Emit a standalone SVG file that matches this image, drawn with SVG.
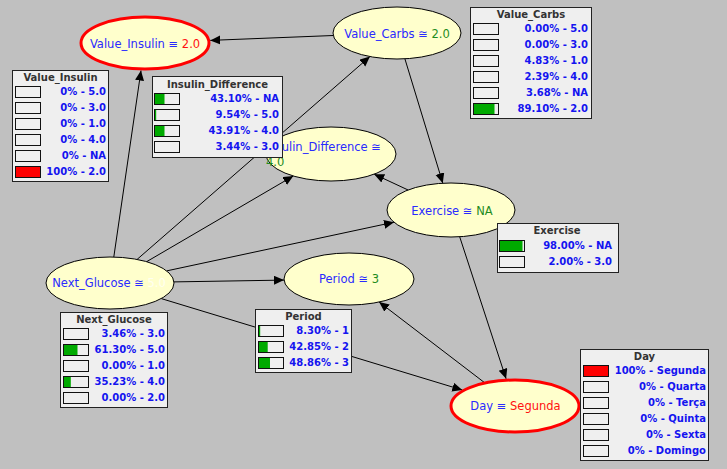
<svg xmlns="http://www.w3.org/2000/svg" width="727" height="469" viewBox="0 0 727 469">
  <style>
    .node { fill: #ffffcc; stroke: #000; stroke-width: 1; }
    .evidence { fill: #ffffcc; stroke: #ff0000; stroke-width: 3; }
    .label { font-family: "DejaVu Sans", sans-serif; font-size: 11.5px; text-anchor: middle; }
    .nm { fill: #2a2aff; }
    .est { fill: #1e8c1e; }
    .obs { fill: #ff1010; }
    .pale { fill: #fffff0; }
    .edge { stroke: #000; stroke-width: 1; fill: none; marker-end: url(#arrow); }
    .monitor { fill: #efefef; stroke: #222; stroke-width: 1; }
    .mtitle { font-family: "DejaVu Sans", sans-serif; font-size: 10px; font-weight: bold; fill: #333; text-anchor: middle; }
    .mrow { font-family: "DejaVu Sans", sans-serif; font-size: 10px; font-weight: bold; fill: #1414f0; text-anchor: end; }
    .bar { fill: #efefef; stroke: #111; stroke-width: 1; }
    .g { fill: #00aa00; }
    .r { fill: #ff0000; }
  </style>
  <defs>
    <marker id="arrow" markerUnits="userSpaceOnUse" markerWidth="11" markerHeight="10" refX="10" refY="4.5" orient="auto">
      <path d="M0,0 L10,4.5 L0,9 z" fill="#000"/>
    </marker>
  </defs>

  <rect x="0" y="0" width="727" height="469" fill="#c0c0c0"/>

  <!-- connectors -->
  <g id="connectors">
    <line class="edge" x1="333.3" y1="35.5" x2="210.2" y2="40.4"/>
    <line class="edge" x1="113.8" y1="257" x2="141" y2="70.5"/>
    <line class="edge" x1="137.1" y1="259.4" x2="369.9" y2="56.6"/>
    <line class="edge" x1="146.6" y1="261.7" x2="293.3" y2="176"/>
    <line class="edge" x1="166.6" y1="270.9" x2="394" y2="222.2"/>
    <line class="edge" x1="174" y1="281.9" x2="284" y2="280.1"/>
    <line class="edge" x1="161.3" y1="298.6" x2="462.3" y2="390"/>
    <line class="edge" x1="404.9" y1="58.8" x2="442.8" y2="183.2"/>
    <line class="edge" x1="408.1" y1="190" x2="374.2" y2="174.2"/>
    <line class="edge" x1="459.7" y1="236.8" x2="506.1" y2="378.8"/>
    <line class="edge" x1="485" y1="383" x2="379.1" y2="302"/>
  </g>

  <!-- Value_Insulin -->
  <g id="Value_Insulin">
    <ellipse class="evidence" cx="145" cy="43" rx="64" ry="26"/>
    <text class="label" x="145" y="48"><tspan class="nm">Value_Insulin ≡ </tspan><tspan class="obs">2.0</tspan></text>
    <rect class="monitor" x="12.5" y="70.5" width="96" height="111"/>
    <text class="mtitle" x="60.5" y="81">Value_Insulin</text>
    <rect class="bar" x="15.5" y="86.5" width="25" height="11"/>
    <rect class="bar" x="15.5" y="102.5" width="25" height="11"/>
    <rect class="bar" x="15.5" y="118.5" width="25" height="11"/>
    <rect class="bar" x="15.5" y="134.5" width="25" height="11"/>
    <rect class="bar" x="15.5" y="150.5" width="25" height="11"/>
    <rect class="bar" x="15.5" y="166.5" width="25" height="11"/>
    <rect class="r" x="16" y="167" width="24" height="10"/>
    <text class="mrow" x="106" y="94.5">0% - 5.0</text>
    <text class="mrow" x="106" y="110.5">0% - 3.0</text>
    <text class="mrow" x="106" y="126.5">0% - 1.0</text>
    <text class="mrow" x="106" y="142.5">0% - 4.0</text>
    <text class="mrow" x="106" y="158.5">0% - NA</text>
    <text class="mrow" x="106" y="174.5">100% - 2.0</text>
  </g>

  <!-- Value_Carbs -->
  <g id="Value_Carbs">
    <ellipse class="node" cx="397" cy="33" rx="64" ry="26"/>
    <text class="label" x="397" y="38"><tspan class="nm">Value_Carbs ≅ </tspan><tspan class="est">2.0</tspan></text>
    <rect class="monitor" x="470.5" y="7.5" width="121" height="111"/>
    <text class="mtitle" x="531" y="18">Value_Carbs</text>
    <rect class="bar" x="473.5" y="23.5" width="25" height="11"/>
    <rect class="bar" x="473.5" y="39.5" width="25" height="11"/>
    <rect class="bar" x="473.5" y="55.5" width="25" height="11"/>
    <rect class="bar" x="473.5" y="71.5" width="25" height="11"/>
    <rect class="bar" x="473.5" y="87.5" width="25" height="11"/>
    <rect class="bar" x="473.5" y="103.5" width="25" height="11"/>
    <rect class="g" x="474" y="104" width="20.5" height="10"/>
    <text class="mrow" x="588" y="31.5">0.00% - 5.0</text>
    <text class="mrow" x="588" y="47.5">0.00% - 3.0</text>
    <text class="mrow" x="588" y="63.5">4.83% - 1.0</text>
    <text class="mrow" x="588" y="79.5">2.39% - 4.0</text>
    <text class="mrow" x="588" y="95.5">3.68% - NA</text>
    <text class="mrow" x="588" y="111.5">89.10% - 2.0</text>
  </g>

  <!-- Insulin_Difference -->
  <g id="Insulin_Difference">
    <ellipse class="node" cx="331" cy="154" rx="65" ry="27"/>
    <text class="label" style="text-anchor:start" x="265" y="150.5"><tspan class="nm">Insulin_Difference ≅</tspan></text>
    <text class="label" style="text-anchor:start" x="266" y="165.5"><tspan class="est">4.0</tspan></text>
    <rect class="monitor" x="152.5" y="76.5" width="130" height="81"/>
    <text class="mtitle" x="217.5" y="88">Insulin_Difference</text>
    <rect class="bar" x="154.5" y="93.5" width="25" height="11"/>
    <rect class="bar" x="154.5" y="109.5" width="25" height="11"/>
    <rect class="bar" x="154.5" y="125.5" width="25" height="11"/>
    <rect class="bar" x="154.5" y="141.5" width="25" height="11"/>
    <rect class="g" x="155" y="94" width="9.5" height="10"/>
    <rect class="g" x="155" y="110" width="1.2" height="10"/>
    <rect class="g" x="155" y="126" width="9.5" height="10"/>
    <text class="mrow" x="279" y="101.5">43.10% - NA</text>
    <text class="mrow" x="279" y="117.5">9.54% - 5.0</text>
    <text class="mrow" x="279" y="133.5">43.91% - 4.0</text>
    <text class="mrow" x="279" y="149.5">3.44% - 3.0</text>
  </g>

  <!-- Exercise -->
  <g id="Exercise">
    <ellipse class="node" cx="451" cy="210" rx="64" ry="27"/>
    <text class="label" x="452" y="215"><tspan class="nm">Exercise ≅ </tspan><tspan class="est">NA</tspan></text>
    <rect class="monitor" x="497.5" y="223.5" width="121" height="49"/>
    <text class="mtitle" x="557" y="234">Exercise</text>
    <rect class="bar" x="499.5" y="240.5" width="25" height="11"/>
    <rect class="bar" x="499.5" y="256.5" width="25" height="11"/>
    <rect class="g" x="500" y="241" width="22.5" height="10"/>
    <text class="mrow" x="612" y="248.5">98.00% - NA</text>
    <text class="mrow" x="612" y="264.5">2.00% - 3.0</text>
  </g>

  <!-- Next_Glucose -->
  <g id="Next_Glucose">
    <ellipse class="node" cx="110" cy="283" rx="64" ry="26"/>
    <text class="label" x="109" y="287"><tspan class="nm">Next_Glucose ≅ </tspan><tspan class="pale">5.0</tspan></text>
    <rect class="monitor" x="60.5" y="312.5" width="107" height="95"/>
    <text class="mtitle" x="114" y="323">Next_Glucose</text>
    <rect class="bar" x="63.5" y="328.5" width="25" height="11"/>
    <rect class="bar" x="63.5" y="344.5" width="25" height="11"/>
    <rect class="bar" x="63.5" y="360.5" width="25" height="11"/>
    <rect class="bar" x="63.5" y="376.5" width="25" height="11"/>
    <rect class="bar" x="63.5" y="392.5" width="25" height="11"/>
    <rect class="g" x="64" y="345" width="13.5" height="10"/>
    <rect class="g" x="64" y="377" width="6.8" height="10"/>
    <text class="mrow" x="165" y="336.5">3.46% - 3.0</text>
    <text class="mrow" x="165" y="352.5">61.30% - 5.0</text>
    <text class="mrow" x="165" y="368.5">0.00% - 1.0</text>
    <text class="mrow" x="165" y="384.5">35.23% - 4.0</text>
    <text class="mrow" x="165" y="400.5">0.00% - 2.0</text>
  </g>

  <!-- Period -->
  <g id="Period">
    <ellipse class="node" cx="349" cy="279" rx="65" ry="26"/>
    <text class="label" x="349" y="283"><tspan class="nm">Period ≅ </tspan><tspan class="est">3</tspan></text>
    <rect class="monitor" x="255.5" y="309.5" width="96" height="63"/>
    <text class="mtitle" x="303.5" y="320">Period</text>
    <rect class="bar" x="258.5" y="325.5" width="25" height="11"/>
    <rect class="bar" x="258.5" y="341.5" width="25" height="11"/>
    <rect class="bar" x="258.5" y="357.5" width="25" height="11"/>
    <rect class="g" x="259" y="326" width="1.2" height="10"/>
    <rect class="g" x="259" y="342" width="8.7" height="10"/>
    <rect class="g" x="259" y="358" width="11" height="10"/>
    <text class="mrow" x="349" y="333.5">8.30% - 1</text>
    <text class="mrow" x="349" y="349.5">42.85% - 2</text>
    <text class="mrow" x="349" y="365.5">48.86% - 3</text>
  </g>

  <!-- Day -->
  <g id="Day">
    <ellipse class="evidence" cx="515" cy="406" rx="64" ry="26"/>
    <text class="label" x="515.5" y="410"><tspan class="nm">Day ≡ </tspan><tspan class="obs">Segunda</tspan></text>
    <rect class="monitor" x="580.5" y="349.5" width="128" height="111"/>
    <text class="mtitle" x="644.5" y="360">Day</text>
    <rect class="bar" x="583.5" y="365.5" width="25" height="11"/>
    <rect class="bar" x="583.5" y="381.5" width="25" height="11"/>
    <rect class="bar" x="583.5" y="397.5" width="25" height="11"/>
    <rect class="bar" x="583.5" y="413.5" width="25" height="11"/>
    <rect class="bar" x="583.5" y="429.5" width="25" height="11"/>
    <rect class="bar" x="583.5" y="445.5" width="25" height="11"/>
    <rect class="r" x="584" y="366" width="24" height="10"/>
    <text class="mrow" x="706" y="373.5">100% - Segunda</text>
    <text class="mrow" x="706" y="389.5">0% - Quarta</text>
    <text class="mrow" x="706" y="405.5">0% - Terça</text>
    <text class="mrow" x="706" y="421.5">0% - Quinta</text>
    <text class="mrow" x="706" y="437.5">0% - Sexta</text>
    <text class="mrow" x="706" y="453.5">0% - Domingo</text>
  </g>
</svg>
